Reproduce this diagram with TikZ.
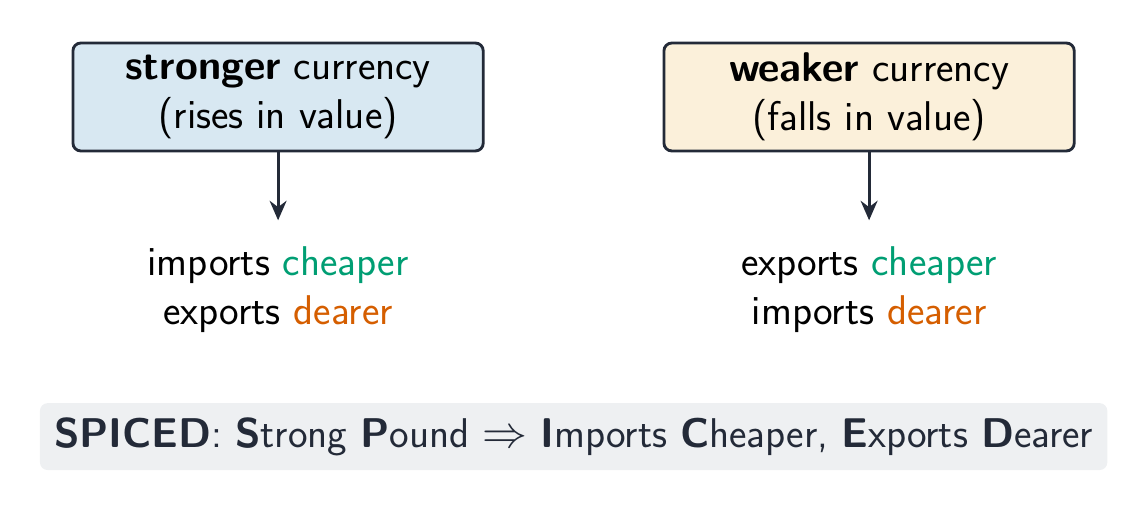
\documentclass[tikz,border=0pt]{standalone}
\usetikzlibrary{arrows.meta}
\renewcommand{\familydefault}{\sfdefault}
\definecolor{ink}{HTML}{232A38}
\definecolor{strongfill}{HTML}{D8E8F2}
\definecolor{weakfill}{HTML}{FBF0DA}
\definecolor{cheapgreen}{HTML}{009E73}
\definecolor{dearorange}{HTML}{D55E00}
\definecolor{notegray}{HTML}{EEF0F2}
\newcommand{\bigtext}{\fontsize{16}{18.9}\selectfont}
\tikzset{
  currbox/.style={draw=ink, line width=1.1pt, rounded corners=3pt, minimum width=5.55cm, minimum height=1.46cm, align=center, font=\bigtext},
  effect/.style={align=center, font=\bigtext},
  down/.style={-{Stealth[length=7.5pt,width=6.5pt]}, draw=ink, line width=1.2pt}
}
\begin{document}
\begin{tikzpicture}
        \useasboundingbox (0,0) rectangle (15.53,-6.927);
        \node[currbox, fill=strongfill] (S) at (3.762,-1.312) {\textbf{stronger} currency\\(rises in value)};
        \node[currbox, fill=weakfill]   (W) at (11.757,-1.312) {\textbf{weaker} currency\\(falls in value)};
        \coordinate (SE) at (3.762,-2.98);
        \coordinate (WE) at (11.757,-2.98);
        \node[effect] (SR) at (3.762,-3.92) {imports \textcolor{cheapgreen}{cheaper}\\exports \textcolor{dearorange}{dearer}};
        \node[effect] (WR) at (11.757,-3.92) {exports \textcolor{cheapgreen}{cheaper}\\imports \textcolor{dearorange}{dearer}};
        
        \node[fill=notegray, rounded corners=3pt, minimum width=14.44cm, minimum height=0.906cm, text=ink, font=\bigtext] (M) at (7.76,-5.906)
          {\textbf{SPICED}: \textbf{S}trong \textbf{P}ound $\Rightarrow$ \textbf{I}mports \textbf{C}heaper, \textbf{E}xports \textbf{D}earer};
        
        \draw[down] (S) -- (SE);
        \draw[down] (W) -- (WE);
      \end{tikzpicture}
\end{document}
